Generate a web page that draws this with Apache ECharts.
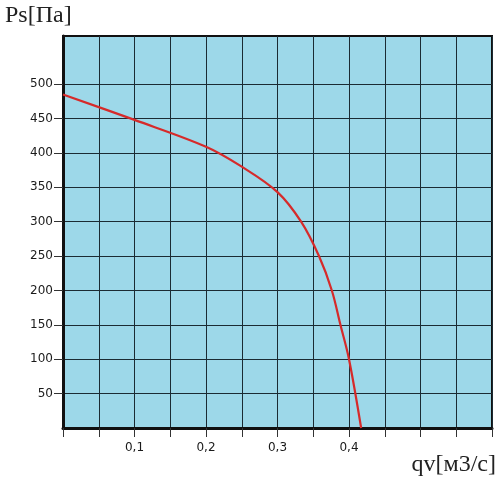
<!DOCTYPE html>
<html><head><meta charset="utf-8">
<script src="https://cdn.jsdelivr.net/npm/echarts@6/dist/echarts.min.js"></script>
<style>html,body{margin:0;padding:0;background:#fff}#c{width:500px;height:500px}</style>
</head><body><div id="c"></div>
<script>
const flowValues = [0, 0.1, 0.2, 0.25, 0.3, 0.333, 0.358, 0.376, 0.388, 0.40, 0.417];
const pressureValues = [485, 448, 409, 380, 343, 300, 250, 200, 150, 100, 0];
const yTickValues = [50, 100, 150, 200, 250, 300, 350, 400, 450, 500];
const xLabelValues = [0.1, 0.2, 0.3, 0.4];
const xLabelTexts = ['0,1', '0,2', '0,3', '0,4'];
const yAxisTitle = 'Ps[Па]';
const xAxisTitle = 'qv[м3/с]';

const points = flowValues.map((x, i) => [x, pressureValues[i]]);
const chart = echarts.init(document.getElementById('c'));
chart.setOption({
  animation: false,
  grid: { left: 63, right: 8, top: 36, bottom: 72, show: true, backgroundColor: '#9dd8e9', borderColor: '#111', borderWidth: 2 },
  xAxis: {
    type: 'value', min: 0, max: 0.6, interval: 0.05,
    axisLine: { show: true, lineStyle: { color: '#111', width: 3 } },
    axisTick: { show: true, length: 9, lineStyle: { color: '#333', width: 1 } },
    splitLine: { show: true, lineStyle: { color: '#1b2b33', width: 1 } },
    axisLabel: {
      color: '#1a1a1a', fontFamily: 'DejaVu Sans', fontSize: 12, margin: 14,
      formatter: v => { const i = xLabelValues.findIndex(t => Math.abs(t - v) < 1e-6); return i >= 0 ? xLabelTexts[i] : ''; }
    }
  },
  yAxis: {
    type: 'value', min: 0, max: 570,
    axisLine: { show: true, lineStyle: { color: '#111', width: 3 } },
    axisTick: { show: true, length: 9, customValues: yTickValues, lineStyle: { color: '#333', width: 1 } },
    splitLine: { show: true, lineStyle: { color: '#1b2b33', width: 1 } },
    axisLabel: { color: '#1a1a1a', fontFamily: 'DejaVu Sans', fontSize: 12, margin: 10, customValues: yTickValues }
  },
  graphic: [
    { type: 'text', left: 5, top: 4, style: { text: yAxisTitle, font: '24px "Liberation Serif"', fill: '#222' } },
    { type: 'text', right: 4, top: 453, style: { text: xAxisTitle, font: '24px "Liberation Serif"', fill: '#222' } }
  ],
  series: [{
    type: 'line', data: points, smooth: 0.35, showSymbol: false,
    lineStyle: { color: '#d62a2a', width: 2.2 }, clip: true
  }]
});
</script></body></html>
